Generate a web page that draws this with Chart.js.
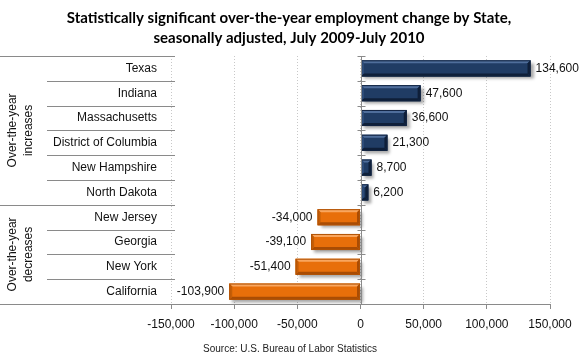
<!DOCTYPE html>
<html>
<head>
<meta charset="utf-8">
<script src="https://cdn.jsdelivr.net/npm/chart.js@4.4.0/dist/chart.umd.min.js"></script>
<style>
  html, body { margin: 0; padding: 0; background: #fff; }
</style>
</head>
<body>
<canvas id="myChart" width="580" height="360"></canvas>
<script>
// data
var states = ['Texas', 'Indiana', 'Massachusetts', 'District of Columbia', 'New Hampshire',
  'North Dakota', 'New Jersey', 'Georgia', 'New York', 'California'];
var changes = [134600, 47600, 36600, 21300, 8700, 6200, -34000, -39100, -51400, -103900];
var groupNames = [['Over-the-year', 'increases'], ['Over-the-year', 'decreases']];
var groupSizes = [6, 4];
var axisMin = -150000;
var axisMax = 150000;
var axisStep = 50000;
var titleLines = ['Statistically significant over-the-year employment change by State,',
  'seasonally adjusted, July 2009-July 2010'];
var sourceText = 'Source: U.S. Bureau of Labor Statistics';

var navy = { fill: '#203c64', light: '#4f6e9b', dark: '#0f1f38', side: '#2c4b78', edge: '#112340' };
var orange = { fill: '#e86f0a', light: '#f9a65e', dark: '#a94c04', side: '#c55e07', edge: '#b05206' };
var lineGray = '#8a8a8a';
var font = "'Liberation Sans', Arial, sans-serif";

function fmt(v) {
  return v.toLocaleString('en-US');
}

function poly(ctx, pts, color) {
  ctx.beginPath();
  ctx.moveTo(pts[0][0], pts[0][1]);
  for (var i = 1; i < pts.length; i++) ctx.lineTo(pts[i][0], pts[i][1]);
  ctx.closePath();
  ctx.fillStyle = color;
  ctx.fill();
}

// shadow under the bars
const shadowPlugin = {
  id: 'shadow',
  beforeDatasetsDraw(chart) {
    const ctx = chart.ctx;
    ctx.save();
    ctx.shadowColor = 'rgba(0,0,0,0.35)';
    ctx.shadowBlur = 3;
    ctx.shadowOffsetX = 3;
    ctx.shadowOffsetY = 3;
  },
  afterDatasetsDraw(chart) {
    chart.ctx.restore();
  }
};

// bevel edges + value labels
const barDecor = {
  id: 'barDecor',
  afterDatasetsDraw(chart) {
    const ctx = chart.ctx;
    const meta = chart.getDatasetMeta(0);
    ctx.save();
    meta.data.forEach(function (bar, i) {
      const p = bar.getProps(['x', 'y', 'base', 'height'], true);
      const c = changes[i] >= 0 ? navy : orange;
      const l = Math.min(p.x, p.base), r = Math.max(p.x, p.base);
      const t = p.y - p.height / 2, b = p.y + p.height / 2;
      const d = Math.min(3, (r - l) / 2);
      poly(ctx, [[l, t], [r, t], [r - d, t + d], [l + d, t + d]], c.light);
      poly(ctx, [[l, t], [l + d, t + d], [l + d, b - d], [l, b]], c.side);
      poly(ctx, [[l, b], [r, b], [r - d, b - d], [l + d, b - d]], c.dark);
      poly(ctx, [[r, t], [r, b], [r - d, b - d], [r - d, t + d]], c.dark);
      ctx.strokeStyle = c.edge;
      ctx.lineWidth = 1;
      ctx.strokeRect(l + 0.5, t + 0.5, r - l - 1, b - t - 1);

      ctx.fillStyle = '#111';
      ctx.font = '12px ' + font;
      ctx.textBaseline = 'middle';
      if (changes[i] >= 0) {
        ctx.textAlign = 'left';
        ctx.fillText(fmt(changes[i]), p.x + 5, p.y);
      } else {
        ctx.textAlign = 'right';
        ctx.fillText(fmt(changes[i]), p.x - 5, p.y);
      }
    });
    ctx.restore();
  }
};

// category separators, zero line, group labels, title and source
const frame = {
  id: 'frame',
  afterDraw(chart) {
    const ctx = chart.ctx;
    const ys = chart.scales.y;
    const xs = chart.scales.x;
    const area = chart.chartArea;
    const x0 = Math.round(xs.getPixelForValue(0)) + 0.5;
    ctx.save();
    ctx.strokeStyle = lineGray;
    ctx.lineWidth = 1;

    // boundaries between categories
    var groupEdges = [0];
    groupSizes.forEach(function (n) { groupEdges.push(groupEdges[groupEdges.length - 1] + n); });
    for (var i = 0; i <= states.length; i++) {
      const y = Math.round(ys.getPixelForValue(i - 0.5)) + 0.5;
      const full = groupEdges.indexOf(i) >= 0;
      ctx.beginPath();
      ctx.moveTo(full ? 0 : 47, y);
      ctx.lineTo(area.left + 4, y);
      ctx.stroke();
      // small ticks across the zero line
      ctx.beginPath();
      ctx.moveTo(x0 - 4, y);
      ctx.lineTo(x0 + 4, y);
      ctx.stroke();
    }
    // zero line
    ctx.beginPath();
    ctx.moveTo(x0, area.top);
    ctx.lineTo(x0, area.bottom);
    ctx.stroke();

    // group labels, rotated
    ctx.fillStyle = '#111';
    ctx.font = '12px ' + font;
    ctx.textAlign = 'center';
    ctx.textBaseline = 'middle';
    for (var g = 0; g < groupSizes.length; g++) {
      const top = ys.getPixelForValue(groupEdges[g] - 0.5);
      const bot = ys.getPixelForValue(groupEdges[g + 1] - 0.5);
      ctx.save();
      ctx.translate(21, (top + bot) / 2);
      ctx.rotate(-Math.PI / 2);
      ctx.fillText(groupNames[g][0], 0, -8);
      ctx.fillText(groupNames[g][1], 0, 8);
      ctx.restore();
    }

    // title
    ctx.fillStyle = '#000';
    ctx.font = 'bold 15px Lato, ' + font;
    ctx.fillText(titleLines[0], 289, 18);
    ctx.fillText(titleLines[1], 289, 38);

    // source
    ctx.fillStyle = '#222';
    ctx.font = '10px ' + font;
    ctx.fillText(sourceText, 290, 349);
    ctx.restore();
  }
};

new Chart(document.getElementById('myChart'), {
  type: 'bar',
  data: {
    labels: states,
    datasets: [{
      data: changes,
      backgroundColor: changes.map(function (v) { return v >= 0 ? navy.fill : orange.fill; }),
      borderWidth: 0,
      categoryPercentage: 1,
      barPercentage: 0.65
    }]
  },
  options: {
    indexAxis: 'y',
    responsive: false,
    animation: false,
    layout: { padding: { top: 56, right: 30, bottom: 26, left: 0 } },
    plugins: {
      legend: { display: false },
      title: { display: false },
      tooltip: { enabled: false }
    },
    scales: {
      x: {
        min: axisMin,
        max: axisMax,
        afterFit: function (scale) { scale.height = 30; },
        ticks: {
          stepSize: axisStep,
          color: '#111',
          font: { family: font, size: 12 },
          padding: 8,
          maxRotation: 0,
          callback: function (v) { return fmt(v); }
        },
        grid: {
          color: '#c8c8c8',
          tickColor: lineGray,
          tickLength: 5,
          tickBorderDash: []
        },
        border: { color: lineGray, dash: [1, 2] }
      },
      y: {
        afterFit: function (scale) { scale.width = 171; },
        ticks: {
          color: '#111',
          font: { family: font, size: 12 },
          padding: 14,
          autoSkip: false
        },
        grid: { display: false, drawTicks: false },
        border: { display: false }
      }
    }
  },
  plugins: [shadowPlugin, barDecor, frame]
});
</script>
</body>
</html>
